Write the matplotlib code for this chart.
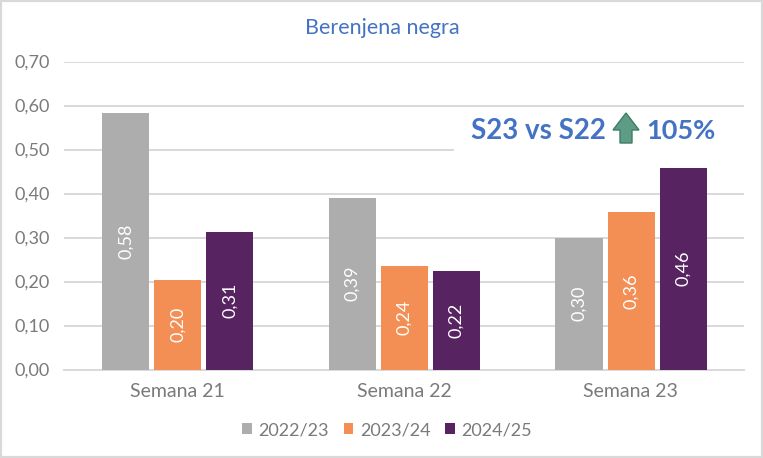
import numpy as np
import matplotlib
matplotlib.use('Agg')
import matplotlib.pyplot as plt
from matplotlib.patches import Polygon, Rectangle

plt.rcParams['font.family'] = ['Lato', 'DejaVu Sans']

# Data
weeks = ['Semana 21', 'Semana 22', 'Semana 23']
seasons = ['2022/23', '2023/24', '2024/25']
v_2022 = [0.583, 0.39, 0.30]
v_2023 = [0.204, 0.236, 0.357]
v_2024 = [0.313, 0.223, 0.458]
colors = ['#ADADAD', '#F38F54', '#572360']
y_ticks = [0.0, 0.1, 0.2, 0.3, 0.4, 0.5, 0.6, 0.7]

W, H = 763, 458
TEXT = '#7A7A7A'
GRID = '#D9D9D9'

fig = plt.figure(figsize=(W / 100, H / 100), dpi=100)
ax = fig.add_axes([64 / W, 1 - 369.5 / H, 680 / W, 308 / H])

# Bars with rotated labels
x = np.arange(len(weeks))
step = 0.23
for i, (vals, name, col) in enumerate(zip([v_2022, v_2023, v_2024], seasons, colors)):
    bars = ax.bar(x + (i - 1) * step + 0.002, vals, width=0.208, color=col, label=name, zorder=3)
    for b, v in zip(bars, vals):
        ax.text(b.get_x() + b.get_width() / 2, v / 2, f'{v:.2f}'.replace('.', ','),
                rotation=90, ha='center', va='center', color='white', fontsize=13, zorder=4)

ax.set_xlim(-0.5, 2.5)
ax.set_ylim(0, 0.7)
ax.set_yticks(y_ticks)
ax.set_yticklabels([f'{t:.2f}'.replace('.', ',') for t in y_ticks], fontsize=13, color=TEXT)
ax.set_xticks(x)
ax.set_xticklabels(weeks, fontsize=14, color=TEXT)
ax.tick_params(axis='x', length=0, pad=10)
ax.tick_params(axis='y', length=0, pad=10)
ax.grid(axis='y', color=GRID, linewidth=1.4, zorder=0)
ax.set_axisbelow(True)
for s in ['top', 'right', 'left']:
    ax.spines[s].set_visible(False)
ax.spines['bottom'].set_color(GRID)
ax.spines['bottom'].set_linewidth(1.4)

# Title
fig.text(382 / W, 1 - 28 / H, 'Berenjena negra', ha='center', va='center', color='#4472C4', fontsize=15.5)

# Callout sits on a white box that covers part of the 0,50 gridline
fig.add_artist(Rectangle((454 / W, 1 - 162 / H), 295 / W, 44 / H, transform=fig.transFigure,
                         facecolor='white', edgecolor='none', zorder=1.5))
ax.set_zorder(1)
ax.patch.set_alpha(0)
fig.text(471 / W, 1 - 131 / H, 'S23 vs S22', ha='left', va='center', color='#4472C4',
         fontsize=20, fontweight='bold', zorder=5)
fig.text(646 / W, 1 - 131 / H, '105%', ha='left', va='center', color='#4472C4',
         fontsize=19.5, fontweight='bold', zorder=5)
arrow = [(626, 113), (639, 130), (632, 130), (632, 143), (620, 143), (620, 130), (613, 130)]
fig.add_artist(Polygon([(px / W, 1 - py / H) for px, py in arrow], closed=True, transform=fig.transFigure,
                       facecolor='#5F9C85', edgecolor='#3F7D66', linewidth=1, zorder=5))

# Legend
ax.legend(loc='center', bbox_to_anchor=(0.475, (369.5 - 430) / 308), ncol=3, frameon=False, fontsize=13,
          labelcolor=TEXT, handlelength=0.55, handleheight=0.6, handletextpad=0.35, columnspacing=0.8)

# Chart frame
fig.add_artist(Rectangle((0, 0), 1, 1, transform=fig.transFigure, facecolor='none',
                         edgecolor=GRID, linewidth=3, zorder=6))

fig.savefig('out.png', dpi=100)
